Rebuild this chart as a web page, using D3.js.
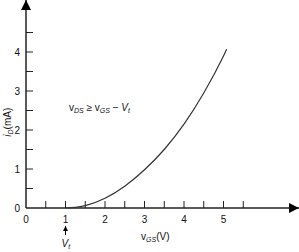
<!DOCTYPE html>
<html>
<head>
<meta charset="utf-8">
<script src="https://cdn.jsdelivr.net/npm/d3@7"></script>
<style>
  body { margin: 0; background: #fff; }
  text { font-family: "Liberation Sans", Arial, sans-serif; fill: #111; }
</style>
</head>
<body>
<div class="canvas"></div>
<script>
// curve points
const vGS = [1, 1.25, 1.5, 2, 2.5, 3, 3.5, 4, 4.5, 5, 5.08];
const iD = [0, 0.015, 0.06, 0.25, 0.56, 0.98, 1.5, 2.15, 2.95, 3.9, 4.07];

const xTicks = [0.5, 1, 1.5, 2, 2.5, 3, 3.5, 4, 4.5, 5, 5.5];
const xLabels = [0, 1, 2, 3, 4, 5];
const yTicks = [0.5, 1, 1.5, 2, 2.5, 3, 3.5, 4, 4.5];
const yLabels = [0, 1, 2, 3, 4];

const svg = d3.select('.canvas')
    .append('svg')
        .attr('width', 299)
        .attr('height', 252);

const x = d3.scaleLinear().domain([0, 5]).range([26, 223.5]);
const y = d3.scaleLinear().domain([0, 4]).range([208, 52]);

const axisColor = '#222';

// arrowheads
const defs = svg.append('defs');
defs.append('marker')
    .attr('id', 'arrow')
    .attr('viewBox', '0 0 10 10')
    .attr('refX', 10).attr('refY', 5)
    .attr('markerWidth', 10).attr('markerHeight', 10)
    .attr('markerUnits', 'userSpaceOnUse')
    .attr('orient', 'auto')
  .append('path')
    .attr('d', 'M0,0 L10,5 L0,10 z')
    .attr('fill', '#000');
defs.append('marker')
    .attr('id', 'small')
    .attr('viewBox', '0 0 10 10')
    .attr('refX', 10).attr('refY', 5)
    .attr('markerWidth', 5).attr('markerHeight', 5)
    .attr('markerUnits', 'userSpaceOnUse')
    .attr('orient', 'auto')
  .append('path')
    .attr('d', 'M0,0 L10,5 L0,10 z')
    .attr('fill', '#000');

// x ticks (pointing up)
svg.selectAll('.xtick')
    .data(xTicks)
    .enter().append('line')
        .attr('x1', d => x(d)).attr('x2', d => x(d))
        .attr('y1', y(0)).attr('y2', y(0) - 7)
        .attr('stroke', axisColor).attr('stroke-width', 1);

// y ticks (pointing right)
svg.selectAll('.ytick')
    .data(yTicks)
    .enter().append('line')
        .attr('x1', x(0)).attr('x2', x(0) + 7)
        .attr('y1', d => y(d)).attr('y2', d => y(d))
        .attr('stroke', axisColor).attr('stroke-width', 1);

// axes
svg.append('line')
    .attr('x1', x(0)).attr('x2', 299)
    .attr('y1', y(0)).attr('y2', y(0))
    .attr('stroke', axisColor).attr('stroke-width', 1.5)
    .attr('marker-end', 'url(#arrow)');
svg.append('line')
    .attr('x1', x(0)).attr('x2', x(0))
    .attr('y1', y(0)).attr('y2', 0)
    .attr('stroke', axisColor).attr('stroke-width', 1.5)
    .attr('marker-end', 'url(#arrow)');

// tick labels
svg.selectAll('.xlab')
    .data(xLabels)
    .enter().append('text')
        .attr('x', d => x(d)).attr('y', y(0) + 15)
        .attr('text-anchor', 'middle')
        .attr('font-size', 10)
        .text(d => d);
svg.selectAll('.ylab')
    .data(yLabels)
    .enter().append('text')
        .attr('x', x(0) - 6).attr('y', d => y(d) + 3.5)
        .attr('text-anchor', 'end')
        .attr('font-size', 10)
        .text(d => d);

// curve
const pts = vGS.map((v, i) => [v, iD[i]]);
svg.append('path')
    .datum(pts)
    .attr('fill', 'none')
    .attr('stroke', '#333')
    .attr('stroke-width', 1.2)
    .attr('d', d3.line().x(d => x(d[0])).y(d => y(d[1])).curve(d3.curveMonotoneX));

// axis titles
const yt = svg.append('text')
    .attr('transform', `translate(11,${y(2.2)}) rotate(-90)`)
    .attr('text-anchor', 'middle')
    .attr('font-size', 10);
yt.append('tspan').attr('font-style', 'italic').text('i');
yt.append('tspan').attr('font-style', 'italic').attr('font-size', 7).attr('dy', 2).text('D');
yt.append('tspan').attr('dy', -2).text('(mA)');

const xt = svg.append('text')
    .attr('x', 141).attr('y', 240)
    .attr('font-size', 10);
xt.append('tspan').text('v');
xt.append('tspan').attr('font-style', 'italic').attr('font-size', 7).attr('dy', 2).text('GS');
xt.append('tspan').attr('dy', -2).text('(V)');

// Vt marker
svg.append('line')
    .attr('x1', x(1)).attr('x2', x(1))
    .attr('y1', 235).attr('y2', 226)
    .attr('stroke', '#000').attr('stroke-width', 1)
    .attr('marker-end', 'url(#small)');
const vt = svg.append('text')
    .attr('x', x(1) - 4).attr('y', 247)
    .attr('font-size', 10);
vt.append('tspan').attr('font-style', 'italic').text('V');
vt.append('tspan').attr('font-style', 'italic').attr('font-size', 7).attr('dy', 2).text('t');

// annotation
const ann = svg.append('text')
    .attr('x', 69).attr('y', 111)
    .attr('font-size', 10);
ann.append('tspan').text('v');
ann.append('tspan').attr('font-style', 'italic').attr('font-size', 7).attr('dy', 2).text('DS');
ann.append('tspan').attr('dy', -2).text(' \u2265 v');
ann.append('tspan').attr('font-style', 'italic').attr('font-size', 7).attr('dy', 2).text('GS');
ann.append('tspan').attr('dy', -2).text(' \u2212 ');
ann.append('tspan').attr('font-style', 'italic').text('V');
ann.append('tspan').attr('font-style', 'italic').attr('font-size', 7).attr('dy', 2).text('t');
</script>
</body>
</html>
